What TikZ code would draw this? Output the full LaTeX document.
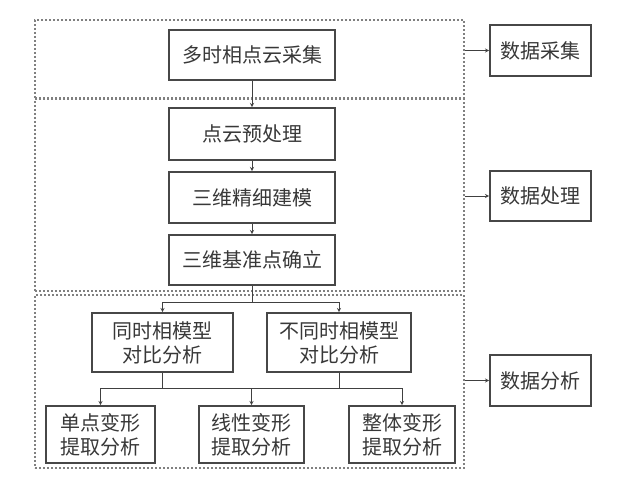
\documentclass[tikz,border=0pt]{standalone}
\usepackage{fontspec}
\newfontfamily\cjk{Noto Sans CJK SC}
\usetikzlibrary{calc}

\begin{document}
\begin{tikzpicture}[x=1pt, y=-1pt, >=stealth,
  box/.style={draw=black!72, line width=1.7pt, fill=white, text=black!78,
    font=\cjk\fontsize{20}{24}\selectfont, align=center, inner sep=0pt},
  stage/.style={draw=black!50, line width=1.4pt, dash pattern=on 2pt off 2pt},
  link/.style={draw=black!75, line width=0.9pt}]
  \useasboundingbox (0,0) rectangle (640,489);
  % dashed stages
  \node[stage, minimum width=429, minimum height=78] (s1) at (249.5,59) {};
  \node[stage, minimum width=429, minimum height=192] (s2) at (249.5,195) {};
  \node[stage, minimum width=429, minimum height=173] (s3) at (249.5,381.5) {};
  % main column
  \node[box, minimum width=166, minimum height=50] (a1) at (252,55) {多时相点云采集};
  \node[box, minimum width=166, minimum height=52] (a2) at (252,134) {点云预处理};
  \node[box, minimum width=166, minimum height=51] (a3) at (252,197.5) {三维精细建模};
  \node[box, minimum width=166, minimum height=50] (a4) at (252,260) {三维基准点确立};
  % comparison
  \node[box, minimum width=141, minimum height=59] (b1) at (162.5,342.5) {同时相模型\\对比分析};
  \node[box, minimum width=144, minimum height=59] (b2) at (339,342.5) {不同时相模型\\对比分析};
  % extraction
  \node[box, minimum width=109, minimum height=57] (c1) at (100.5,434.5) {单点变形\\提取分析};
  \node[box, minimum width=105, minimum height=57] (c2) at (251.5,434.5) {线性变形\\提取分析};
  \node[box, minimum width=106, minimum height=57] (c3) at (402,434.5) {整体变形\\提取分析};
  % stage labels
  \node[box, minimum width=101, minimum height=51] (r1) at (540.5,50.5) {数据采集};
  \node[box, minimum width=101, minimum height=50] (r2) at (540.5,196) {数据处理};
  \node[box, minimum width=101, minimum height=51] (r3) at (540.5,380.5) {数据分析};
  % connectors
  \draw[link, ->] (a1) -- (a2);
  \draw[link, ->] (a2) -- (a3);
  \draw[link, ->] (a3) -- (a4);
  \draw[link] (a4.south) -- ++(0,17) coordinate (fork);
  \draw[link, ->] (fork) -| (b1.north);
  \draw[link, ->] (fork) -| (b2.north);
  \draw[link] (b1.south) -- ++(0,16) coordinate (join);
  \draw[link] (b2.south) -- (b2.south |- join);
  \draw[link, ->] (join) -| (c1.north);
  \draw[link, ->] (join) -| (c3.north);
  \draw[link, ->] (c2.north |- join) -- (c2.north);
  \draw[link, ->] (s1.east |- r1.west) -- (r1.west);
  \draw[link, ->] (s2.east |- r2.west) -- (r2.west);
  \draw[link, ->] (s3.east |- r3.west) -- (r3.west);
\end{tikzpicture}
\end{document}
